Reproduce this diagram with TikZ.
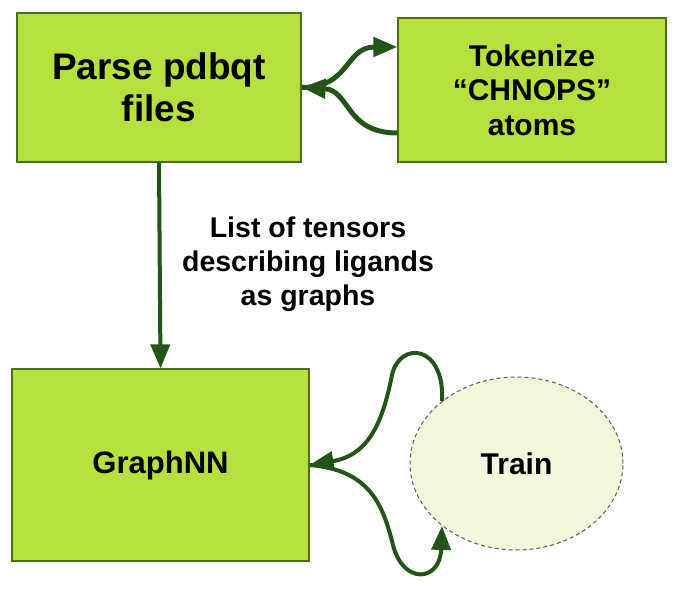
\documentclass[tikz,border=0pt]{standalone}
\usepackage{fontspec}
\setmainfont{Liberation Sans}
\usetikzlibrary{arrows.meta,shapes.geometric}
\definecolor{boxgreen}{HTML}{B6E03E}
\definecolor{boxline}{HTML}{4F6E1C}
\definecolor{arrowgreen}{HTML}{245518}
\definecolor{trainfill}{HTML}{F0F7DA}

\begin{document}
\begin{tikzpicture}
  [x=1pt,y=-1pt,
   box/.style={rectangle,draw=boxline,fill=boxgreen,line width=1.2pt,inner sep=0pt,align=center},
   train/.style={ellipse,draw=black!65,dash pattern=on 4pt off 3pt,line width=1pt,fill=trainfill,
     minimum width=213pt,minimum height=173pt,inner sep=0pt,font=\bfseries\fontsize{30}{36}\selectfont},
   flow/.style={draw=arrowgreen,line width=5pt,-{Triangle[length=24pt,width=19pt]}}]
  \useasboundingbox (0,0) rectangle (686,602);
  \node[box,minimum width=284pt,minimum height=149pt,font=\bfseries\fontsize{37}{42}\selectfont] (parse) at (159,87.5) {Parse pdbqt\\files};
  \node[box,minimum width=268pt,minimum height=144pt,font=\bfseries\fontsize{30}{34.5}\selectfont] (tok) at (532,90) {Tokenize\\“CHNOPS”\\atoms};
  \node[box,minimum width=297pt,minimum height=192pt,font=\bfseries\fontsize{31}{36}\selectfont] (graph) at (160.5,465) {GraphNN};
  \node[train] (train) at (516.5,463.5) {Train};
  \node[align=center,font=\bfseries\fontsize{28.5}{34}\selectfont] (tensors) at (308,264) {List of tensors\\describing ligands\\as graphs};
  \coordinate (tokin) at ([yshift=43pt]tok.west);
  \coordinate (tokout) at ([yshift=-43pt]tok.west);
  \draw[flow] (parse.east) .. controls (350,88) and (345,47) .. (tokin);
  \draw[flow] (tokout) .. controls (345,133) and (350,90) .. (parse.east);
  \draw[flow,line width=4pt] (parse.south) -- (graph.north);
  \draw[flow,line width=4pt] (train.140) .. controls (445,345) and (400,340) .. (392,375)
    .. controls (383,420) and (370,455) .. (graph.east);
  \draw[flow,line width=4pt] (graph.east) .. controls (370,470) and (383,505) .. (393,545)
    .. controls (403,585) and (440,582) .. (train.220);
\end{tikzpicture}
\end{document}
